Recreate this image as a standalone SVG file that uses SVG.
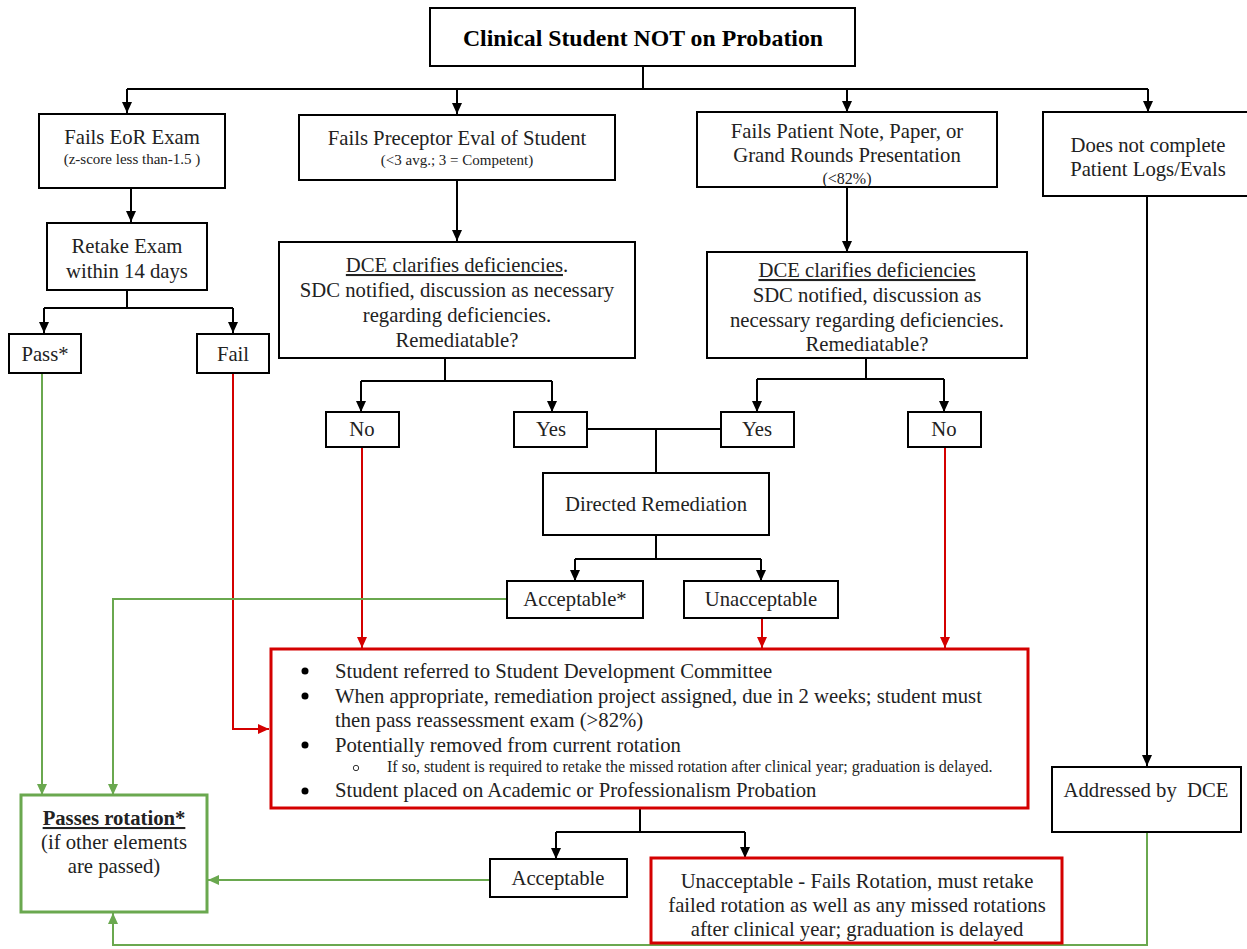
<svg xmlns="http://www.w3.org/2000/svg" width="1247" height="949" viewBox="0 0 1247 949">
<defs>
<style>
.box{fill:#fff;stroke:#000;stroke-width:2}
.rbox{fill:#fff;stroke:#d40000;stroke-width:3}
.gbox{fill:#fff;stroke:#6aa84f;stroke-width:3}
text{font-family:'Liberation Serif','DejaVu Serif',serif;fill:#222;text-anchor:middle}
.t{font-size:20.7px}
.s{font-size:15px}
.title{font-size:23.8px;font-weight:bold;fill:#000}
.l{text-anchor:start}
.k{fill:none;stroke:#000;stroke-width:2}
.r{fill:none;stroke:#d40000;stroke-width:2}
.g{fill:none;stroke:#6aa84f;stroke-width:2}
</style>
<marker id="ak" markerUnits="userSpaceOnUse" markerWidth="12" markerHeight="12" refX="11" refY="6" orient="auto"><path d="M0,1 L11,6 L0,11 z" fill="#000"/></marker>
<marker id="ar" markerUnits="userSpaceOnUse" markerWidth="12" markerHeight="12" refX="11" refY="6" orient="auto"><path d="M0,1 L11,6 L0,11 z" fill="#d40000"/></marker>
<marker id="ag" markerUnits="userSpaceOnUse" markerWidth="12" markerHeight="12" refX="11" refY="6" orient="auto"><path d="M0,1 L11,6 L0,11 z" fill="#6aa84f"/></marker>
</defs>
<rect width="1247" height="949" fill="#fff"/>

<g id="connectors">
<path class="k" d="M643,66 V89 M127,89 H1148"/>
<path class="k" d="M127,89 V113" marker-end="url(#ak)"/>
<path class="k" d="M457,89 V114" marker-end="url(#ak)"/>
<path class="k" d="M847,89 V112" marker-end="url(#ak)"/>
<path class="k" d="M1148,89 V112" marker-end="url(#ak)"/>
<path class="k" d="M131,188 V222" marker-end="url(#ak)"/>
<path class="k" d="M127,290 V308 M44,308 H233"/>
<path class="k" d="M44,308 V333" marker-end="url(#ak)"/>
<path class="k" d="M233,308 V333" marker-end="url(#ak)"/>
<path class="k" d="M457,180 V241" marker-end="url(#ak)"/>
<path class="k" d="M445,358 V381 M361,381 H552"/>
<path class="k" d="M361,381 V412" marker-end="url(#ak)"/>
<path class="k" d="M552,381 V412" marker-end="url(#ak)"/>
<path class="k" d="M847,187 V252" marker-end="url(#ak)"/>
<path class="k" d="M866,358 V379 M757,379 H944"/>
<path class="k" d="M757,379 V412" marker-end="url(#ak)"/>
<path class="k" d="M944,379 V412" marker-end="url(#ak)"/>
<path class="k" d="M587,429 H721 M656,429 V473"/>
<path class="k" d="M656,535 V559 M575,559 H761"/>
<path class="k" d="M575,559 V581" marker-end="url(#ak)"/>
<path class="k" d="M761,559 V581" marker-end="url(#ak)"/>
<path class="k" d="M640,808 V832 M556,832 H745"/>
<path class="k" d="M556,832 V859" marker-end="url(#ak)"/>
<path class="k" d="M745,832 V858" marker-end="url(#ak)"/>
<path class="k" d="M1147,196 V766" marker-end="url(#ak)"/>
<path class="r" d="M362,447 V648" marker-end="url(#ar)"/>
<path class="r" d="M762,618 V648" marker-end="url(#ar)"/>
<path class="r" d="M945,447 V648" marker-end="url(#ar)"/>
<path class="r" d="M233,373 V729 H269" marker-end="url(#ar)"/>
<path class="g" d="M42,373 V795" marker-end="url(#ag)"/>
<path class="g" d="M507,599 H113 V795" marker-end="url(#ag)"/>
<path class="g" d="M490,880 H208" marker-end="url(#ag)"/>
<path class="g" d="M1147,832 V945 H113 V913" marker-end="url(#ag)"/>
</g>

<g id="n-top"><rect class="box" x="430" y="8" width="425" height="58"/><text class="title" x="643" y="46">Clinical Student NOT on Probation</text></g>

<g id="n-eor"><rect class="box" x="39" y="114" width="186" height="74"/><text class="t" x="132" y="144">Fails EoR Exam</text><text class="s" x="132" y="164">(z-score less than-1.5 )</text></g>

<g id="n-preceptor"><rect class="box" x="299" y="115" width="316" height="65"/><text class="t" x="457" y="145">Fails Preceptor Eval of Student</text><text class="s" x="457" y="165">(&lt;3 avg.; 3 = Competent)</text></g>

<g id="n-note"><rect class="box" x="697" y="112" width="300" height="75"/><text class="t" x="847" y="138">Fails Patient Note, Paper, or</text><text class="t" x="847" y="162">Grand Rounds Presentation</text><text x="847" y="184" font-size="16">(&lt;82%)</text></g>

<g id="n-logs"><rect class="box" x="1043" y="112" width="214" height="84"/><text class="t" x="1148" y="152">Does not complete</text><text class="t" x="1148" y="176">Patient Logs/Evals</text></g>

<g id="n-retake"><rect class="box" x="47" y="223" width="160" height="67"/><text class="t" x="127" y="253">Retake Exam</text><text class="t" x="127" y="278">within 14 days</text></g>

<g id="n-pass"><rect class="box" x="9" y="334" width="72" height="39"/><text class="t" x="45" y="361">Pass*</text></g>

<g id="n-fail"><rect class="box" x="197" y="334" width="72" height="39"/><text class="t" x="233" y="361">Fail</text></g>

<g id="n-dce1"><rect class="box" x="279" y="242" width="356" height="116"/><text class="t" x="457" y="272"><tspan text-decoration="underline">DCE clarifies deficiencies</tspan>.</text><text class="t" x="457" y="297">SDC notified, discussion as necessary</text><text class="t" x="457" y="322">regarding deficiencies.</text><text class="t" x="457" y="347">Remediatable?</text></g>

<g id="n-dce2"><rect class="box" x="707" y="252" width="320" height="106"/><text class="t" x="867" y="277" text-decoration="underline">DCE clarifies deficiencies</text><text class="t" x="867" y="302">SDC notified, discussion as</text><text class="t" x="867" y="327">necessary regarding deficiencies.</text><text class="t" x="867" y="351">Remediatable?</text></g>

<g id="n-no1"><rect class="box" x="326" y="412" width="73" height="35"/><text class="t" x="362" y="436">No</text></g>
<g id="n-yes1"><rect class="box" x="514" y="412" width="73" height="35"/><text class="t" x="551" y="436">Yes</text></g>
<g id="n-yes2"><rect class="box" x="721" y="412" width="73" height="35"/><text class="t" x="757" y="436">Yes</text></g>
<g id="n-no2"><rect class="box" x="908" y="412" width="73" height="35"/><text class="t" x="944" y="436">No</text></g>

<g id="n-directed"><rect class="box" x="543" y="473" width="226" height="62"/><text class="t" x="656" y="511">Directed Remediation</text></g>

<g id="n-acc1"><rect class="box" x="507" y="581" width="136" height="37"/><text class="t" x="575" y="606">Acceptable*</text></g>
<g id="n-unacc1"><rect class="box" x="684" y="581" width="154" height="37"/><text class="t" x="761" y="606">Unacceptable</text></g>

<g id="n-sdc"><rect class="rbox" x="271" y="649" width="757" height="159"/>
<circle cx="305" cy="671" r="3.5" fill="#000"/><text class="t l" x="335" y="678">Student referred to Student Development Committee</text>
<circle cx="305" cy="696" r="3.5" fill="#000"/><text class="t l" x="335" y="703">When appropriate, remediation project assigned, due in 2 weeks; student must</text>
<text class="t l" x="335" y="727">then pass reassessment exam (&gt;82%)</text>
<circle cx="305" cy="745" r="3.5" fill="#000"/><text class="t l" x="335" y="752">Potentially removed from current rotation</text>
<circle cx="356" cy="768" r="2.7" fill="none" stroke="#333" stroke-width="1"/><text class="l" x="387" y="772" font-size="16">If so, student is required to retake the missed rotation after clinical year; graduation is delayed.</text>
<circle cx="305" cy="791" r="3.5" fill="#000"/><text class="t l" x="335" y="797">Student placed on Academic or Professionalism Probation</text>
</g>

<g id="n-passes"><rect class="gbox" x="21" y="795" width="186" height="117"/><text class="t" x="114" y="825" font-weight="bold" text-decoration="underline">Passes rotation*</text><text class="t" x="114" y="849">(if other elements</text><text class="t" x="114" y="873">are passed)</text></g>

<g id="n-acc2"><rect class="box" x="490" y="859" width="137" height="38"/><text class="t" x="558" y="885">Acceptable</text></g>

<g id="n-fails"><rect class="rbox" x="651" y="858" width="411" height="85"/><text class="t" x="857" y="888">Unacceptable - Fails Rotation, must retake</text><text class="t" x="857" y="912">failed rotation as well as any missed rotations</text><text class="t" x="857" y="936">after clinical year; graduation is delayed</text></g>

<g id="n-addressed"><rect class="box" x="1052" y="767" width="189" height="65"/><text class="t" x="1146" y="797" xml:space="preserve">Addressed by  DCE</text></g>
</svg>
